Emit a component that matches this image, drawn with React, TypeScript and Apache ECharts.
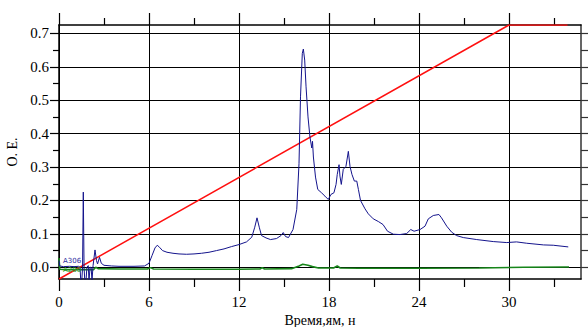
import React, { useEffect, useRef } from "react";
import * as echarts from "echarts";

// A306 trace (blue)
const blueTime = [0, 0.05, 0.3, 0.7, 1.0, 1.3, 1.4, 1.45, 1.52, 1.57, 1.62, 1.67, 1.72, 1.8, 1.86, 1.95, 2.0, 2.07, 2.14, 2.2, 2.27, 2.4, 2.5, 2.57, 2.7, 2.82, 3.0, 3.5, 4.0, 5.0, 5.7, 6.0, 6.2, 6.4, 6.55, 6.7, 6.9, 7.2, 7.6, 8.0, 8.5, 9.0, 9.5, 10.0, 10.5, 11.0, 11.5, 12.0, 12.5, 12.85, 13.05, 13.2, 13.35, 13.5, 13.8, 14.1, 14.5, 14.8, 14.95, 15.1, 15.3, 15.6, 15.85, 16.0, 16.1, 16.22, 16.29, 16.38, 16.47, 16.6, 16.73, 16.85, 16.9, 16.96, 17.1, 17.25, 17.5, 17.73, 17.95, 18.13, 18.33, 18.47, 18.55, 18.67, 18.73, 18.82, 18.95, 19.13, 19.29, 19.4, 19.53, 19.69, 19.85, 19.96, 20.1, 20.4, 20.62, 20.95, 21.29, 21.6, 21.9, 22.29, 22.73, 23.18, 23.45, 23.67, 24.07, 24.4, 24.62, 24.95, 25.33, 25.5, 25.85, 26.18, 26.5, 26.95, 27.85, 28.95, 29.85, 30.5, 31.18, 32.3, 32.95, 33.95];
const blueValue = [0.02, 0.004, 0.002, 0.003, 0.002, 0.003, 0.0, -0.04, -0.04, 0.0, 0.225, 0.0, -0.04, -0.04, 0.0, 0.005, -0.04, 0.0, 0.0, -0.04, 0.005, 0.052, 0.02, 0.01, 0.03, 0.012, 0.006, 0.004, 0.003, 0.003, 0.004, 0.012, 0.035, 0.058, 0.066, 0.06, 0.05, 0.045, 0.042, 0.04, 0.039, 0.04, 0.042, 0.045, 0.05, 0.055, 0.062, 0.068, 0.076, 0.09, 0.12, 0.148, 0.12, 0.095, 0.088, 0.083, 0.086, 0.095, 0.104, 0.092, 0.089, 0.113, 0.173, 0.31, 0.51, 0.64, 0.653, 0.62, 0.54, 0.45, 0.39, 0.357, 0.377, 0.33, 0.27, 0.233, 0.223, 0.213, 0.203, 0.218, 0.223, 0.248, 0.278, 0.307, 0.273, 0.248, 0.293, 0.302, 0.347, 0.302, 0.278, 0.258, 0.258, 0.233, 0.2, 0.175, 0.16, 0.145, 0.137, 0.128, 0.108, 0.099, 0.098, 0.101, 0.113, 0.108, 0.113, 0.123, 0.145, 0.155, 0.158, 0.148, 0.123, 0.105, 0.095, 0.089, 0.083, 0.077, 0.074, 0.076, 0.072, 0.067, 0.066, 0.061];

// second trace (green)
const greenTime = [0, 0.05, 0.5, 1.4, 2.3, 2.45, 2.6, 4, 5.9, 6.1, 6.3, 9, 12, 13.4, 13.55, 13.7, 15.5, 16.0, 16.25, 16.6, 16.9, 17.3, 18.3, 18.55, 18.75, 20, 24, 28, 31, 34];
const greenValue = [0.028, -0.006, -0.007, -0.007, -0.007, 0.0, -0.004, -0.005, -0.005, -0.001, -0.005, -0.006, -0.006, -0.005, -0.001, -0.005, -0.004, 0.004, 0.009, 0.006, 0.002, -0.002, -0.002, 0.004, -0.002, -0.003, -0.003, -0.002, 0.0, 0.001];

// gradient (red)
const gradientTime = [0, 30, 33.9];
const gradientValue = [-0.035, 0.725, 0.725];

const xMajorTicks = [0, 6, 12, 18, 24, 30];
const xMinorTicks = [3, 9, 15, 21, 27, 33];
const yMajorTicks = [0, 0.1, 0.2, 0.3, 0.4, 0.5, 0.6, 0.7];
const yMinorTicks = [0.05, 0.15, 0.25, 0.35, 0.45, 0.55, 0.65];
const yRightTicks = [0, 0.05, 0.1, 0.15, 0.2, 0.25, 0.3, 0.35, 0.4, 0.45, 0.5, 0.55, 0.6, 0.65, 0.7];

const traceLabels = ["A306", "A280"];
const xName = "Время,ям, н";
const yName = "О. Е.";

const X_MIN = 0;
const X_MAX = 34.8;
const Y_MIN = -0.035;
const Y_MAX = 0.725;

const zip = (a: number[], b: number[]) => a.map((v, i) => [v, b[i]]);

export default function App() {
  const ref = useRef<HTMLDivElement>(null);
  useEffect(() => {
    if (!ref.current) return;
    const chart = echarts.init(ref.current, null, { renderer: "svg" });
    const font = "'Liberation Serif', 'Times New Roman', serif";
    const baseX = {
      type: "value" as const,
      min: X_MIN,
      max: X_MAX,
      interval: 3,
      axisLine: { show: false, onZero: false },
      axisLabel: { show: false },
      splitLine: { show: false },
      axisTick: { show: false },
    };
    const baseY = {
      type: "value" as const,
      min: Y_MIN,
      max: Y_MAX,
      splitNumber: 8,
      axisLine: { show: false, onZero: false },
      axisLabel: { show: false },
      splitLine: { show: false },
      axisTick: { show: false },
    };
    chart.setOption({
      animation: false,
      backgroundColor: "#ffffff",
      textStyle: { fontFamily: font },
      grid: { left: 59, right: 7, top: 25, bottom: 48, containLabel: false, outerBoundsMode: "none" },
      xAxis: [
        {
          ...baseX,
          position: "bottom",
          name: xName,
          nameLocation: "middle",
          nameGap: 34,
          nameTextStyle: { fontFamily: font, fontSize: 14, color: "#000" },
          axisLine: { show: true, onZero: false, lineStyle: { color: "#000", width: 1.5 } },
          axisTick: { show: true, length: 12, customValues: xMajorTicks, lineStyle: { color: "#000", width: 1.2 } },
          axisLabel: {
            show: true,
            customValues: xMajorTicks,
            margin: 15,
            fontFamily: font,
            fontSize: 15,
            color: "#000",
            formatter: (v: number) => String(v),
          },
          splitLine: { show: true, lineStyle: { color: "#000", width: 1 } },
        },
        {
          ...baseX,
          position: "bottom",
          axisTick: { show: true, length: 8, customValues: xMinorTicks, lineStyle: { color: "#000", width: 1.2 } },
        },
        {
          ...baseX,
          position: "top",
          axisLine: { show: true, onZero: false, lineStyle: { color: "#000", width: 1.5 } },
          axisTick: { show: true, length: 12, customValues: xMajorTicks, lineStyle: { color: "#000", width: 1.2 } },
        },
        {
          ...baseX,
          position: "top",
          axisTick: { show: true, length: 7, customValues: xMinorTicks, lineStyle: { color: "#000", width: 1.2 } },
        },
      ],
      yAxis: [
        {
          ...baseY,
          position: "left",
          name: yName,
          nameLocation: "middle",
          nameGap: 37,
          nameTextStyle: { fontFamily: font, fontSize: 14, color: "#000" },
          axisLine: { show: true, onZero: false, lineStyle: { color: "#000", width: 1.5 } },
          axisTick: { show: true, length: 9, customValues: yMajorTicks, lineStyle: { color: "#000", width: 1.2 } },
          axisLabel: {
            show: true,
            customValues: yMajorTicks,
            margin: 10,
            fontFamily: font,
            fontSize: 15,
            color: "#000",
            formatter: (v: number) => v.toFixed(1),
          },
          splitLine: { show: true, lineStyle: { color: "#000", width: 1 } },
        },
        {
          ...baseY,
          position: "left",
          axisTick: { show: true, length: 6, customValues: yMinorTicks, lineStyle: { color: "#000", width: 1.2 } },
        },
        {
          ...baseY,
          position: "right",
          axisLine: { show: true, onZero: false, lineStyle: { color: "#333", width: 1.5 } },
          axisTick: { show: true, length: 7, customValues: yRightTicks, lineStyle: { color: "#333", width: 1.2 } },
        },
      ],
      graphic: [
        {
          type: "text",
          left: 63,
          top: 257,
          z: 10,
          style: { text: traceLabels[0], fill: "#2a2aa0", fontSize: 7, fontFamily: "DejaVu Sans" },
        },
        {
          type: "text",
          left: 63,
          top: 266,
          z: 10,
          style: { text: traceLabels[1], fill: "#2a9a2a", fontSize: 7, fontFamily: "DejaVu Sans" },
        },
      ],
      series: [
        {
          type: "line",
          name: "gradient",
          data: zip(gradientTime, gradientValue),
          showSymbol: false,
          symbol: "none",
          lineStyle: { color: "#ff1010", width: 1.5 },
          z: 3,
        },
        {
          type: "line",
          name: traceLabels[1],
          data: zip(greenTime, greenValue),
          showSymbol: false,
          symbol: "none",
          lineStyle: { color: "#17861a", width: 1.6 },
          z: 4,
        },
        {
          type: "line",
          name: traceLabels[0],
          data: zip(blueTime, blueValue),
          showSymbol: false,
          symbol: "none",
          lineStyle: { color: "#14148c", width: 1 },
          z: 5,
        },
      ],
    });
    return () => chart.dispose();
  }, []);
  return (
    <div
      ref={ref}
      style={{ position: "fixed", left: 0, top: 0, width: 588, height: 327 }}
    />
  );
}
